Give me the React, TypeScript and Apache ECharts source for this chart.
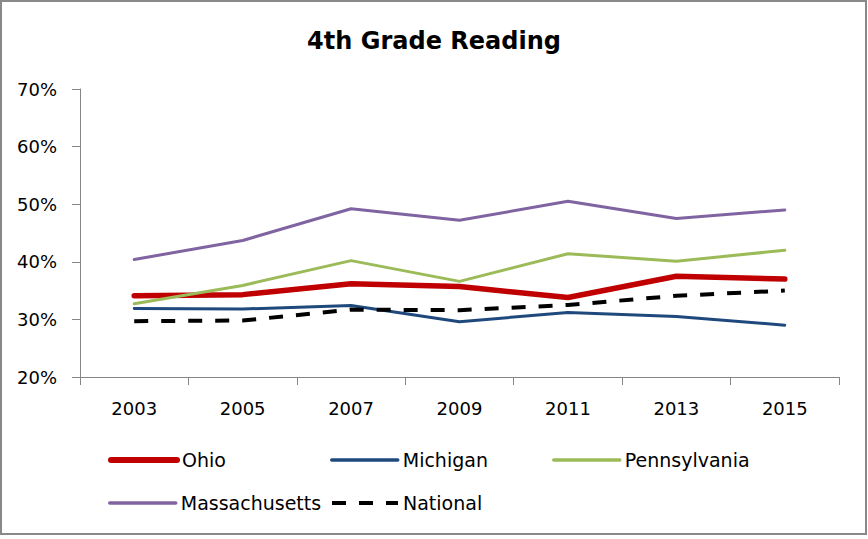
import React, { useEffect, useRef } from "react";
import * as echarts from "echarts";

const years = ["2003", "2005", "2007", "2009", "2011", "2013", "2015"];
const ohio = [34.1, 34.3, 36.2, 35.7, 33.8, 37.5, 37.0];
const michigan = [31.9, 31.8, 32.4, 29.6, 31.2, 30.5, 29.0];
const pennsylvania = [32.7, 35.9, 40.2, 36.6, 41.4, 40.1, 42.0];
const massachusetts = [40.4, 43.7, 49.2, 47.2, 50.5, 47.5, 49.0];
const national = [29.7, 29.8, 31.7, 31.6, 32.5, 34.1, 35.0];

const FONT = "DejaVu Sans";
const AXIS = "#868686";

export default function App() {
  const ref = useRef<HTMLDivElement>(null);
  useEffect(() => {
    document.body.style.margin = "0";
    const chart = echarts.init(ref.current!, null, { renderer: "svg" });
    const legendBase = (name: string, left: number, top: number, width: number) => ({
      data: [name],
      left,
      top,
      padding: 0,
      itemWidth: 66,
      itemHeight: 20,
      lineStyle: { width },
      itemStyle: { opacity: 0, color: "rgba(0,0,0,0)", borderColor: "rgba(0,0,0,0)", borderWidth: 0 },
      textStyle: { fontFamily: FONT, fontSize: 19, color: "#000", lineHeight: 20 },
      selectedMode: false,
    });
    chart.setOption({
      animation: false,
      backgroundColor: "#fff",
      title: {
        text: "4th Grade Reading",
        left: "center",
        top: 24,
        textStyle: { fontFamily: FONT, fontSize: 24, fontWeight: "bold", color: "#000" },
      },
      graphic: [
        {
          type: "rect",
          shape: { x: 1, y: 1, width: 865, height: 533 },
          style: { fill: "none", stroke: "#898989", lineWidth: 2 },
          silent: true,
        },
      ],
      legend: [
        legendBase("Ohio", 108, 450, 6),
        legendBase("Michigan", 330, 450, 3.5),
        legendBase("Pennsylvania", 552, 450, 3.5),
        legendBase("Massachusetts", 108, 493, 3.5),
        legendBase("National", 330, 493, 4),
      ],
      grid: { left: 80, right: 29, top: 89, bottom: 162 },
      xAxis: {
        type: "category",
        data: years,
        boundaryGap: true,
        axisLine: { lineStyle: { color: AXIS, width: 1 } },
        axisTick: { show: true, length: 8, lineStyle: { color: AXIS } },
        axisLabel: { fontFamily: FONT, fontSize: 18, color: "#000", margin: 22 },
        splitLine: { show: false },
      },
      yAxis: {
        type: "value",
        min: 20,
        max: 70,
        interval: 10,
        axisLine: { show: true, lineStyle: { color: AXIS, width: 1 } },
        axisTick: { show: true, length: 8, lineStyle: { color: AXIS } },
        axisLabel: { fontFamily: FONT, fontSize: 18, color: "#000", margin: 23, formatter: "{value}%" },
        splitLine: { show: false },
      },
      series: [
        {
          name: "Ohio",
          type: "line",
          data: ohio,
          symbol: "none",
          lineStyle: { color: "#C00000", width: 5.5, cap: "round", join: "round" },
          itemStyle: { color: "#C00000" },
        },
        {
          name: "Michigan",
          type: "line",
          data: michigan,
          symbol: "none",
          lineStyle: { color: "#1F497D", width: 3, cap: "round", join: "round" },
          itemStyle: { color: "#1F497D" },
        },
        {
          name: "Pennsylvania",
          type: "line",
          data: pennsylvania,
          symbol: "none",
          lineStyle: { color: "#9BBB59", width: 3, cap: "round", join: "round" },
          itemStyle: { color: "#9BBB59" },
        },
        {
          name: "Massachusetts",
          type: "line",
          data: massachusetts,
          symbol: "none",
          lineStyle: { color: "#8064A2", width: 3, cap: "round", join: "round" },
          itemStyle: { color: "#8064A2" },
        },
        {
          name: "National",
          type: "line",
          data: national,
          symbol: "none",
          lineStyle: { color: "#000000", width: 4, type: [14, 13], cap: "butt", join: "round" },
          itemStyle: { color: "#000000" },
        },
      ],
    });
    return () => chart.dispose();
  }, []);
  return <div ref={ref} style={{ width: 868, height: 539 }} />;
}
